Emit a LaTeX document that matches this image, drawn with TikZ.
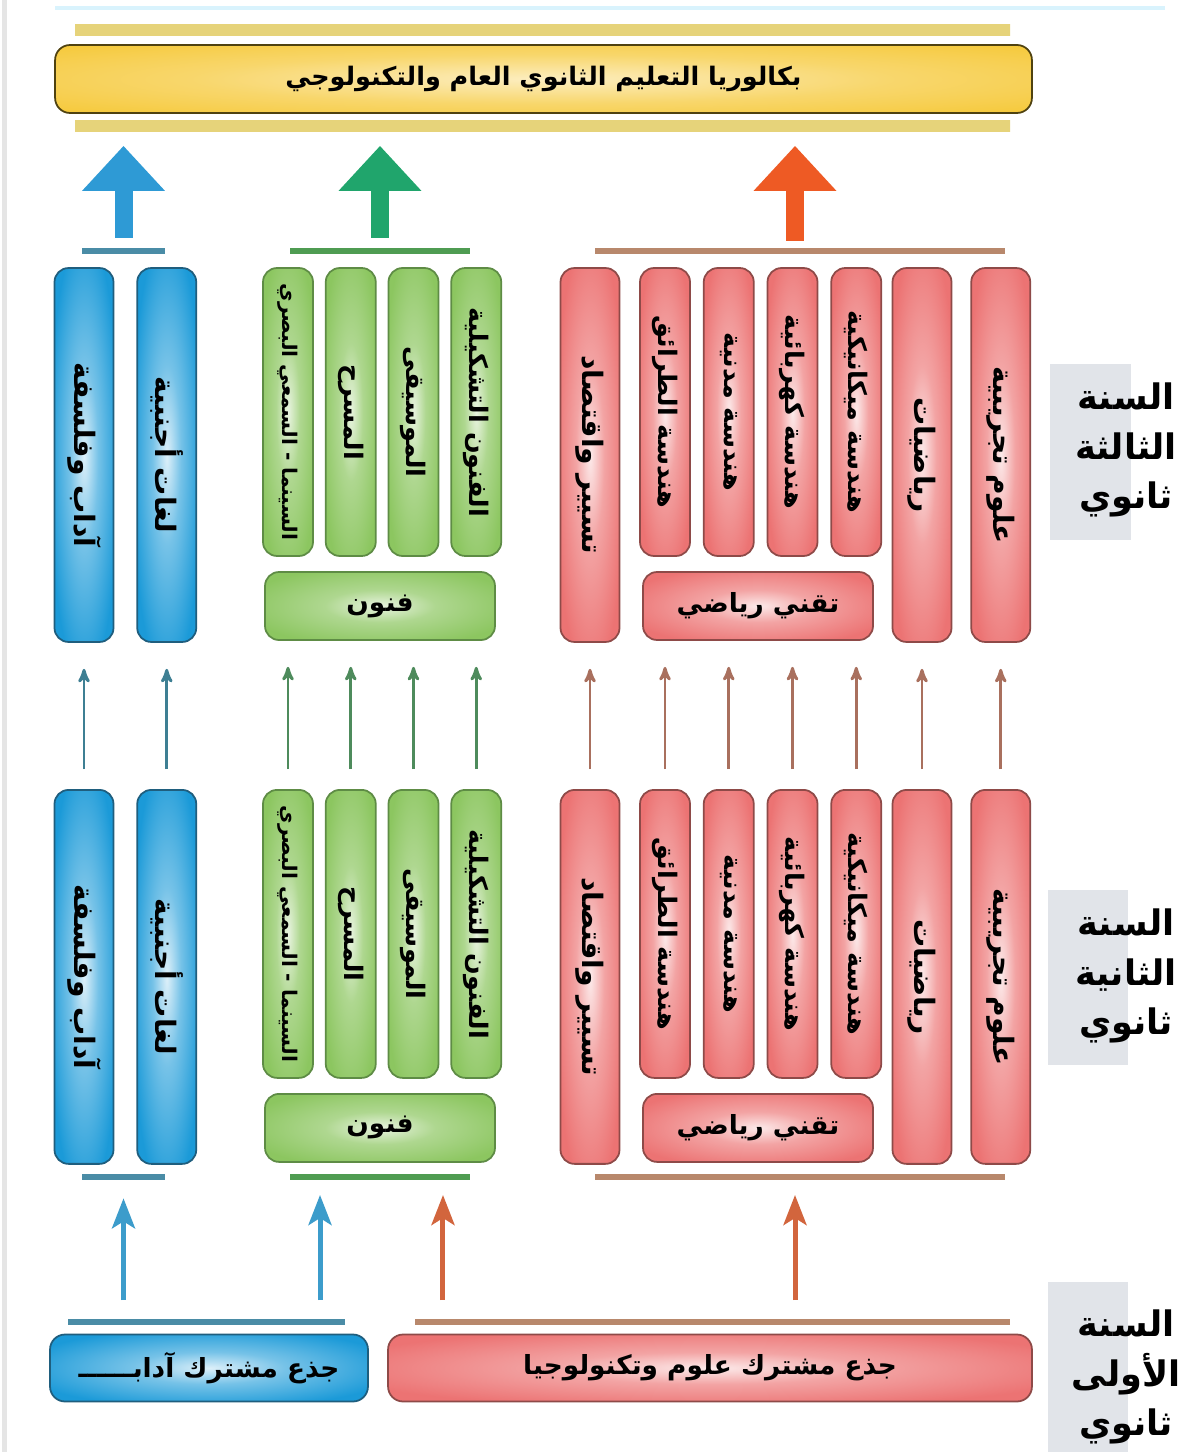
\documentclass[tikz,border=0pt]{standalone}
\usepackage{fontspec}
\usepackage{graphicx}
\usepackage{xcolor}
\usetikzlibrary{arrows,arrows.meta,positioning}
\newfontfamily\arabicfont[Script=Arabic]{DejaVu Sans}
\TeXXeTstate=1
\newcommand{\artxt}[1]{{\arabicfont\bfseries\beginR #1\endR}}
\newcommand{\vtxt}[1]{\rotatebox{-90}{\artxt{#1}}}

\definecolor{cblue}{HTML}{1B9AD8}
\definecolor{cblueedge}{HTML}{1F5E7E}
\definecolor{cgreen}{HTML}{8CC660}
\definecolor{cgreenedge}{HTML}{5E8C45}
\definecolor{cred}{HTML}{EC7373}
\definecolor{crededge}{HTML}{8E4A48}
\definecolor{cyellow}{HTML}{F5C52C}
\definecolor{cyellowedge}{HTML}{4F4210}
\definecolor{bigblue}{HTML}{2E9AD5}
\definecolor{biggreen}{HTML}{20A56C}
\definecolor{bigorange}{HTML}{EE5A24}
\definecolor{thinblue}{HTML}{3E7F93}
\definecolor{thingreen}{HTML}{4E8B5C}
\definecolor{thinbrown}{HTML}{A9705E}
\definecolor{barblue}{HTML}{4A8CA6}
\definecolor{bargreen}{HTML}{4F9C52}
\definecolor{barbrown}{HTML}{B8886C}
\definecolor{midblue}{HTML}{3C9CCB}
\definecolor{midorange}{HTML}{D2653D}
\definecolor{yeargray}{HTML}{E1E4E9}
\definecolor{bandyellow}{HTML}{E6D37A}

\pgfdeclareradialshading{glowblue}{\pgfpointorigin}{color(0bp)=(white!85!cblue); color(12bp)=(cblue!60!white); color(30bp)=(cblue); color(50bp)=(cblue)}
\pgfdeclareradialshading{glowgreen}{\pgfpointorigin}{color(0bp)=(white!80!cgreen); color(12bp)=(cgreen!70!white); color(30bp)=(cgreen); color(50bp)=(cgreen)}
\pgfdeclareradialshading{glowred}{\pgfpointorigin}{color(0bp)=(white!85!cred); color(12bp)=(cred!65!white); color(30bp)=(cred); color(50bp)=(cred)}
\pgfdeclareradialshading{glowyellow}{\pgfpointorigin}{color(0bp)=(white!70!cyellow); color(18bp)=(cyellow!70!white); color(40bp)=(cyellow); color(50bp)=(cyellow)}

\begin{document}
\begin{tikzpicture}[x=0.02cm,y=-0.02cm,>=stealth']
    \tikzset{box/.style={draw, line width=1pt, rounded corners=0.28cm, inner sep=0pt, text=black, shade},
             bluebox/.style={box, draw=cblueedge, shading=glowblue},
             greenbox/.style={box, draw=cgreenedge, shading=glowgreen},
             redbox/.style={box, draw=crededge, shading=glowred},
             widecol/.style={minimum width=1.18cm, minimum height=7.48cm, font=\fontsize{16}{18}\selectfont},
             narrowcol/.style={minimum width=1.0cm, minimum height=5.76cm, font=\fontsize{14.5}{16}\selectfont},
             basebox/.style={minimum width=4.6cm, minimum height=1.36cm, font=\fontsize{15}{17}\selectfont},
             firstbox/.style={minimum height=1.34cm, rounded corners=0.3cm, font=\fontsize{15}{17}\selectfont},
             bar/.style={inner sep=0pt, minimum height=0.12cm, draw=none},
             thinup/.style={->, line width=1.6pt, shorten <=0.4cm, shorten >=0.52cm},
             midup/.style={-{Stealth[width=0.46cm,length=0.6cm,inset=0.14cm]}, line width=0.1cm, shorten <=0.44cm, shorten >=0.36cm},
             bigup/.style={-{Triangle[width=1.6cm,length=0.9cm]}, line width=0.36cm, shorten <=0.2cm, shorten >=0.64cm},
             yearlbl/.style={align=center, font=\fontsize{20}{28}\selectfont, text=black}}
    \fill[white] (0,0) rectangle (1201,1452);
    \useasboundingbox (0,0) rectangle (1201,1452);
    \fill[black!10] (2,0) rectangle (7,1452);
    \draw[line width=2pt, cyan!15] (55,8) -- (1165,8);

    \shade[left color=bandyellow, middle color=white!70!bandyellow, right color=bandyellow] (75,25) rectangle (1010,36);
    \shade[left color=bandyellow, middle color=white!70!bandyellow, right color=bandyellow] (75,121) rectangle (1010,132);
    \node[box, draw=cyellowedge, shading=glowyellow, rounded corners=0.3cm, minimum width=19.54cm, minimum height=1.36cm,
          font=\fontsize{14.5}{17}\selectfont] (bac) at (543.5,79) {\artxt{بكالوريا التعليم الثانوي العام والتكنولوجي}};

    \fill[yeargray] (1050,364) rectangle (1131,540);
    \fill[yeargray] (1048,890) rectangle (1128,1065);
    \fill[yeargray] (1048,1282) rectangle (1128,1452);
    \node[yearlbl] (year3) at (1126,450) {\artxt{السنة}\\\artxt{الثالثة}\\\artxt{ثانوي}};
    \node[yearlbl] (year2) at (1126,976) {\artxt{السنة}\\\artxt{الثانية}\\\artxt{ثانوي}};
    \node[yearlbl] (year1) at (1126,1377) {\artxt{السنة}\\\artxt{الأولى}\\\artxt{ثانوي}};

    \node[bar, fill=barblue, minimum width=1.66cm] (adabbar3) at (123.5,251) {};
    \node[bar, fill=bargreen, minimum width=3.6cm] (artsbar3) at (380,251) {};
    \node[bar, fill=barbrown, minimum width=8.2cm] (scibar3) at (800,251) {};

    \node[bluebox, widecol] (adab3) at (84,455) {\vtxt{آداب وفلسفة}};
    \node[bluebox, widecol] (lugha3) [right=0.44cm of adab3] {\vtxt{لغات أجنبية}};

    \node[greenbox, narrowcol, font=\fontsize{11.5}{13}\selectfont] (cinema3) at (288,412) {\vtxt{السينما - السمعي البصري}};
    \node[greenbox, narrowcol] (masrah3) [right=0.22cm of cinema3] {\vtxt{المسرح}};
    \node[greenbox, narrowcol] (musiqa3) [right=0.22cm of masrah3] {\vtxt{الموسيقى}};
    \node[greenbox, narrowcol] (tashkili3) [right=0.22cm of musiqa3] {\vtxt{الفنون التشكيلية}};
    \node[greenbox, basebox] (funun3) at (380,606) {\artxt{فنون}};

    \node[redbox, widecol] (tasyir3) at (590,455) {\vtxt{تسيير واقتصاد}};
    \node[redbox, narrowcol] (taraiq3) at (665,412) {\vtxt{هندسة الطرائق}};
    \node[redbox, narrowcol] (madani3) [right=0.24cm of taraiq3] {\vtxt{هندسة مدنية}};
    \node[redbox, narrowcol] (kahraba3) [right=0.24cm of madani3] {\vtxt{هندسة كهربائية}};
    \node[redbox, narrowcol] (mikanik3) [right=0.24cm of kahraba3] {\vtxt{هندسة ميكانيكية}};
    \node[redbox, basebox] (tiqni3) at (758,606) {\artxt{تقني رياضي}};
    \node[redbox, widecol] (riyadiyat3) at (922,455) {\vtxt{رياضيات}};
    \node[redbox, widecol] (ulum3) [right=0.36cm of riyadiyat3] {\vtxt{علوم تجريبية}};

    \node[bluebox, widecol] (adab2) at ([yshift=-10.44cm]adab3) {\vtxt{آداب وفلسفة}};
    \node[bluebox, widecol] (lugha2) at ([yshift=-10.44cm]lugha3) {\vtxt{لغات أجنبية}};
    \node[greenbox, narrowcol, font=\fontsize{11.5}{13}\selectfont] (cinema2) at ([yshift=-10.44cm]cinema3) {\vtxt{السينما - السمعي البصري}};
    \node[greenbox, narrowcol] (masrah2) at ([yshift=-10.44cm]masrah3) {\vtxt{المسرح}};
    \node[greenbox, narrowcol] (musiqa2) at ([yshift=-10.44cm]musiqa3) {\vtxt{الموسيقى}};
    \node[greenbox, narrowcol] (tashkili2) at ([yshift=-10.44cm]tashkili3) {\vtxt{الفنون التشكيلية}};
    \node[greenbox, basebox] (funun2) at ([yshift=-10.44cm]funun3) {\artxt{فنون}};
    \node[redbox, widecol] (tasyir2) at ([yshift=-10.44cm]tasyir3) {\vtxt{تسيير واقتصاد}};
    \node[redbox, narrowcol] (taraiq2) at ([yshift=-10.44cm]taraiq3) {\vtxt{هندسة الطرائق}};
    \node[redbox, narrowcol] (madani2) at ([yshift=-10.44cm]madani3) {\vtxt{هندسة مدنية}};
    \node[redbox, narrowcol] (kahraba2) at ([yshift=-10.44cm]kahraba3) {\vtxt{هندسة كهربائية}};
    \node[redbox, narrowcol] (mikanik2) at ([yshift=-10.44cm]mikanik3) {\vtxt{هندسة ميكانيكية}};
    \node[redbox, basebox] (tiqni2) at ([yshift=-10.44cm]tiqni3) {\artxt{تقني رياضي}};
    \node[redbox, widecol] (riyadiyat2) at ([yshift=-10.44cm]riyadiyat3) {\vtxt{رياضيات}};
    \node[redbox, widecol] (ulum2) at ([yshift=-10.44cm]ulum3) {\vtxt{علوم تجريبية}};

    \node[bar, fill=barblue, minimum width=1.66cm] (adabbar2) at (123.5,1177) {};
    \node[bar, fill=bargreen, minimum width=3.6cm] (artsbar2) at (380,1177) {};
    \node[bar, fill=barbrown, minimum width=8.2cm] (scibar2) at (800,1177) {};

    \node[bar, fill=barblue, minimum width=5.54cm] (adabbar1) at (206.5,1322) {};
    \node[bar, fill=barbrown, minimum width=11.9cm] (scibar1) at (712.5,1322) {};
    \node[bluebox, firstbox, minimum width=6.36cm] (jidhadab) at (209,1368) {\artxt{جذع مشترك آدابــــــ}};
    \node[redbox, firstbox, minimum width=12.88cm] (jidhulum) at (710,1368) {\artxt{جذع مشترك علوم وتكنولوجيا}};

    \draw[bigup, bigblue] (adabbar3) -- (adabbar3 |- bac.south);
    \draw[bigup, biggreen] (artsbar3) -- (artsbar3 |- bac.south);
    \draw[bigup, bigorange] ([xshift=-0.1cm]scibar3.center) -- ([xshift=-0.1cm]scibar3.center |- bac.south);

    \path (adab2.north) edge[thinup, thinblue] (adab3.south);
    \path (lugha2.north) edge[thinup, thinblue] (lugha3.south);
    \path (cinema2.north) edge[thinup, thingreen] (funun3.south -| cinema2.north);
    \path (masrah2.north) edge[thinup, thingreen] (funun3.south -| masrah2.north);
    \path (musiqa2.north) edge[thinup, thingreen] (funun3.south -| musiqa2.north);
    \path (tashkili2.north) edge[thinup, thingreen] (funun3.south -| tashkili2.north);
    \path (tasyir2.north) edge[thinup, thinbrown] (tasyir3.south);
    \path (taraiq2.north) edge[thinup, thinbrown] (tiqni3.south -| taraiq2.north);
    \path (madani2.north) edge[thinup, thinbrown] (tiqni3.south -| madani2.north);
    \path (kahraba2.north) edge[thinup, thinbrown] (tiqni3.south -| kahraba2.north);
    \path (mikanik2.north) edge[thinup, thinbrown] (tiqni3.south -| mikanik2.north);
    \path (riyadiyat2.north) edge[thinup, thinbrown] (riyadiyat3.south);
    \path (ulum2.north) edge[thinup, thinbrown] (ulum3.south);

    \draw[midup, midblue] (adabbar2 |- adabbar1) -- (adabbar2);
    \draw[midup, midblue] ([xshift=-1.2cm]artsbar2.center |- adabbar1) -- ([xshift=-1.2cm]artsbar2.center);
    \draw[midup, midorange] ([xshift=1.26cm]artsbar2.center |- scibar1) -- ([xshift=1.26cm]artsbar2.center);
    \draw[midup, midorange] ([xshift=-0.1cm]scibar2.center |- scibar1) -- ([xshift=-0.1cm]scibar2.center);
\end{tikzpicture}
\end{document}
